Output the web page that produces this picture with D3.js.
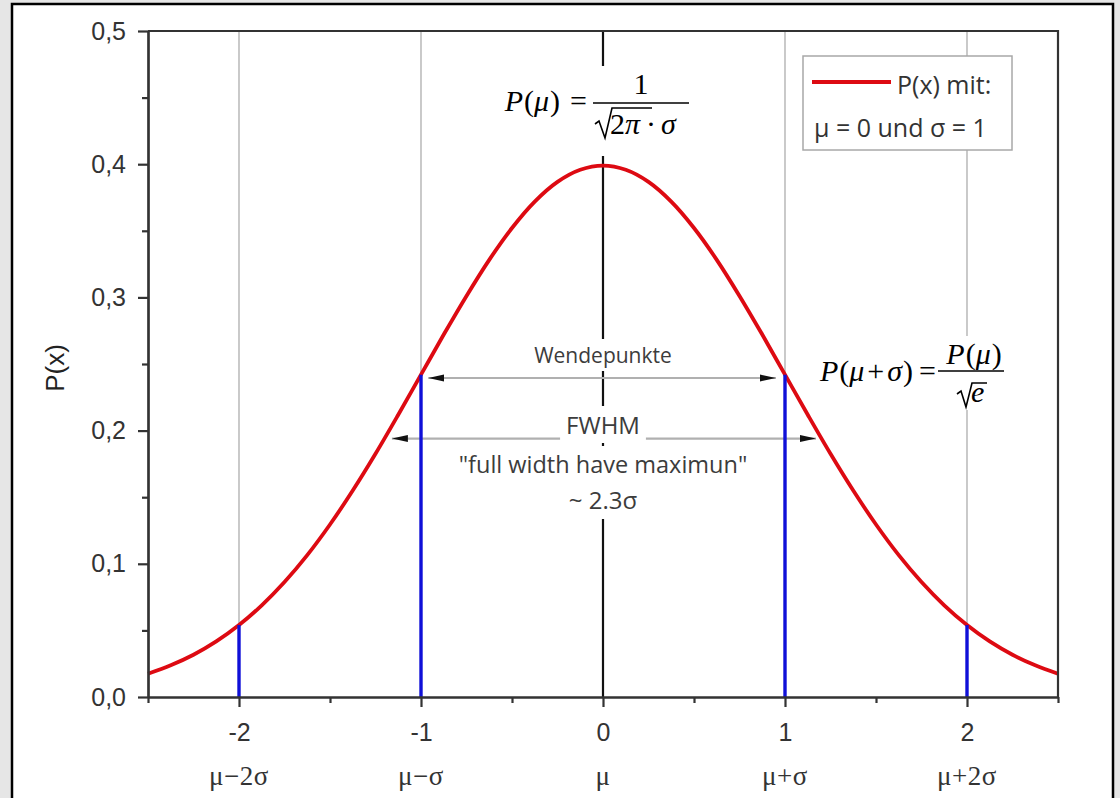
<!DOCTYPE html>
<html>
<head>
<meta charset="utf-8">
<script src="https://cdn.jsdelivr.net/npm/d3@7"></script>
<style>
  html, body { margin: 0; padding: 0; background: #e6e6e6; }
  svg { display: block; }
</style>
</head>
<body>
<svg id="chart" width="1120" height="798"></svg>
<script>
// Normal distribution, mu = 0, sigma = 1: sampled density values
const curveX = [-2.5, -2.375, -2.25, -2.125, -2, -1.875, -1.75, -1.625, -1.5, -1.375, -1.25, -1.125,
                -1, -0.875, -0.75, -0.625, -0.5, -0.375, -0.25, -0.125, 0,
                0.125, 0.25, 0.375, 0.5, 0.625, 0.75, 0.875, 1,
                1.125, 1.25, 1.375, 1.5, 1.625, 1.75, 1.875, 2, 2.125, 2.25, 2.375, 2.5];
const curveY = [0.0175, 0.0238, 0.0317, 0.0417, 0.0540, 0.0688, 0.0863, 0.1065, 0.1295, 0.1550, 0.1826, 0.2119,
                0.2420, 0.2721, 0.3011, 0.3282, 0.3521, 0.3719, 0.3867, 0.3958, 0.3989,
                0.3958, 0.3867, 0.3719, 0.3521, 0.3282, 0.3011, 0.2721, 0.2420,
                0.2119, 0.1826, 0.1550, 0.1295, 0.1065, 0.0863, 0.0688, 0.0540, 0.0417, 0.0317, 0.0238, 0.0175];

// Blue drop lines at mu ± sigma and mu ± 2 sigma
const dropX = [-2, -1, 1, 2];
const dropY = [0.0540, 0.2420, 0.2420, 0.0540];

// Axis ticks
const xTicks = [-2, -1, 0, 1, 2];
const xTickLabels = ["-2", "-1", "0", "1", "2"];
const xSigmaLabels = ["\u03bc\u22122\u03c3", "\u03bc\u2212\u03c3", "\u03bc", "\u03bc+\u03c3", "\u03bc+2\u03c3"];
const xMinorTicks = [-2.5, -1.5, -0.5, 0.5, 1.5, 2.5];
const yTicks = [0, 0.1, 0.2, 0.3, 0.4, 0.5];
const yTickLabels = ["0,0", "0,1", "0,2", "0,3", "0,4", "0,5"];
const yMinorTicks = [0.05, 0.15, 0.25, 0.35, 0.45];

// Vertical reference lines
const gridX = [-2, -1, 1, 2];
const centerX = 0;

// Width arrows: inflection points and FWHM
const arrowNames = ["Wendepunkte", "FWHM"];
const arrowX1 = [-0.96, -1.16];
const arrowX2 = [0.95, 1.17];
const arrowY = [0.2395, 0.194];

const svg = d3.select("#chart");

// white sheet with black frame
svg.append("rect")
  .attr("x", 12).attr("y", 4).attr("width", 1101).attr("height", 810)
  .attr("fill", "#fff").attr("stroke", "#000").attr("stroke-width", 2.5);

const x = d3.scaleLinear().domain([-2.5, 2.5]).range([148, 1058]);
const y = d3.scaleLinear().domain([0, 0.5]).range([697, 31]);

const axisColor = "#333";
const sans = "'Liberation Sans', Arial, sans-serif";
const serif = "'Liberation Serif', 'Times New Roman', serif";
const ui = "'Open Sans', 'Noto Sans', sans-serif";

// grid lines
svg.append("g").selectAll("line").data(gridX).join("line")
  .attr("x1", d => x(d)).attr("x2", d => x(d))
  .attr("y1", y(0.5)).attr("y2", y(0))
  .attr("stroke", "#c4c4c4").attr("stroke-width", 1.8);

svg.append("line")
  .attr("x1", x(centerX)).attr("x2", x(centerX))
  .attr("y1", y(0.5)).attr("y2", y(0))
  .attr("stroke", "#111").attr("stroke-width", 2.2);

// arrows
const defs = svg.append("defs");
["start", "end"].forEach(kind => {
  defs.append("marker")
    .attr("id", "arrow-" + kind)
    .attr("viewBox", "0 0 16 10")
    .attr("refX", kind === "end" ? 16 : 0).attr("refY", 5)
    .attr("markerWidth", 16).attr("markerHeight", 10)
    .attr("markerUnits", "userSpaceOnUse")
    .attr("orient", "auto")
    .append("path")
    .attr("d", kind === "end" ? "M0,1.5 L16,5 L0,8.5 Z" : "M16,1.5 L0,5 L16,8.5 Z")
    .attr("fill", "#111");
});

svg.append("g").selectAll("line").data(arrowY).join("line")
  .attr("x1", (d, i) => x(arrowX1[i])).attr("x2", (d, i) => x(arrowX2[i]))
  .attr("y1", d => y(d)).attr("y2", d => y(d))
  .attr("stroke", "#b0b0b0").attr("stroke-width", 2.2)
  .attr("marker-start", "url(#arrow-start)")
  .attr("marker-end", "url(#arrow-end)");

// text with a white backing box
function boxedText(px, py, str, opts) {
  const g = svg.append("g");
  const rect = g.append("rect").attr("fill", "#fff");
  const t = g.append("text")
    .attr("x", px).attr("y", py)
    .attr("text-anchor", "middle")
    .attr("font-family", ui)
    .attr("font-size", opts.size)
    .attr("fill", opts.color || "#3c3c3c")
    .text(str);
  const b = t.node().getBBox();
  const padX = opts.padX || 4, padY = opts.padY || 2;
  rect.attr("x", b.x - padX).attr("y", b.y - padY)
    .attr("width", b.width + 2 * padX).attr("height", b.height + 2 * padY);
  return g;
}

boxedText(x(0), 363, arrowNames[0], { size: 21, padX: 6, padY: 2 });
boxedText(x(0), 434, arrowNames[1], { size: 24, padX: 6, padY: 0 });
boxedText(x(0), 473, "\"full width have maximun\"", { size: 23.5, padX: 4, padY: 0 });
boxedText(x(0), 509, "~ 2.3\u03c3", { size: 24, padX: 4, padY: 3 });

// formula: P(mu) = 1 / (sqrt(2 pi) * sigma)
const f1 = svg.append("g");
f1.append("rect").attr("x", 496).attr("y", 66).attr("width", 198).attr("height", 90).attr("fill", "#fff");
const f1t = f1.append("text").attr("x", 587).attr("y", 111)
  .attr("text-anchor", "end").attr("font-family", serif).attr("font-size", 30).attr("fill", "#000");
f1t.append("tspan").attr("font-style", "italic").text("P");
f1t.append("tspan").attr("dx", 1).text("(");
f1t.append("tspan").attr("font-style", "italic").text("\u03bc");
f1t.append("tspan").attr("dx", 1).text(")");
f1t.append("tspan").attr("dx", 10).text("=");
f1.append("line").attr("x1", 593).attr("x2", 689).attr("y1", 103).attr("y2", 103)
  .attr("stroke", "#000").attr("stroke-width", 1.6);
f1.append("text").attr("x", 641).attr("y", 94).attr("text-anchor", "middle")
  .attr("font-family", serif).attr("font-size", 30).text("1");
f1.append("path").attr("d", "M595,124 L599,121 L605,138 L612,108 L652,108")
  .attr("fill", "none").attr("stroke", "#000").attr("stroke-width", 1.6);
const f1d = f1.append("text").attr("x", 610).attr("y", 134)
  .attr("font-family", serif).attr("font-size", 30);
f1d.append("tspan").text("2");
f1d.append("tspan").attr("font-style", "italic").text("\u03c0");
f1d.append("tspan").attr("dx", 6).text("\u00b7");
f1d.append("tspan").attr("dx", 5).attr("font-style", "italic").text("\u03c3");

// formula: P(mu + sigma) = P(mu) / sqrt(e)
const f2 = svg.append("g");
f2.append("rect").attr("x", 810).attr("y", 336).attr("width", 200).attr("height", 74).attr("fill", "#fff");
const f2t = f2.append("text").attr("x", 936).attr("y", 381)
  .attr("text-anchor", "end").attr("font-family", serif).attr("font-size", 30);
f2t.append("tspan").attr("font-style", "italic").text("P");
f2t.append("tspan").attr("dx", 1).text("(");
f2t.append("tspan").attr("font-style", "italic").text("\u03bc");
f2t.append("tspan").attr("dx", 3).text("+");
f2t.append("tspan").attr("dx", 3).attr("font-style", "italic").text("\u03c3");
f2t.append("tspan").attr("dx", 1).text(")");
f2t.append("tspan").attr("dx", 6).text("=");
f2.append("line").attr("x1", 938).attr("x2", 1004).attr("y1", 371).attr("y2", 371)
  .attr("stroke", "#000").attr("stroke-width", 1.6);
const f2n = f2.append("text").attr("x", 974).attr("y", 364).attr("text-anchor", "middle")
  .attr("font-family", serif).attr("font-size", 30);
f2n.append("tspan").attr("font-style", "italic").text("P");
f2n.append("tspan").attr("dx", 1).text("(");
f2n.append("tspan").attr("font-style", "italic").text("\u03bc");
f2n.append("tspan").attr("dx", 1).text(")");
f2.append("path").attr("d", "M957,394 L961,391 L966,407 L972,383 L987,383")
  .attr("fill", "none").attr("stroke", "#000").attr("stroke-width", 1.6);
f2.append("text").attr("x", 971).attr("y", 402)
  .attr("font-family", serif).attr("font-size", 30).attr("font-style", "italic").text("e");

// legend
const lg = svg.append("g");
lg.append("rect").attr("x", 803).attr("y", 56).attr("width", 209).attr("height", 94)
  .attr("fill", "#fff").attr("stroke", "#a8a8a8").attr("stroke-width", 1.5);
lg.append("line").attr("x1", 812).attr("x2", 891).attr("y1", 82).attr("y2", 82)
  .attr("stroke", "#dd0a12").attr("stroke-width", 4);
lg.append("text").attr("x", 897).attr("y", 94)
  .attr("font-family", ui).attr("font-size", 25).attr("fill", "#333").text("P(x) mit:");
lg.append("text").attr("x", 814).attr("y", 137)
  .attr("font-family", ui).attr("font-size", 25).attr("fill", "#333").text("\u03bc = 0 und \u03c3 = 1");

// density curve
const line = d3.line()
  .x((d, i) => x(curveX[i]))
  .y(d => y(d))
  .curve(d3.curveCatmullRom.alpha(0.5));

svg.append("path")
  .datum(curveY)
  .attr("d", line)
  .attr("fill", "none")
  .attr("stroke", "#dd0a12")
  .attr("stroke-width", 3.8)
  .attr("stroke-linejoin", "round");

// drop lines
svg.append("g").selectAll("line").data(dropX).join("line")
  .attr("x1", d => x(d)).attr("x2", d => x(d))
  .attr("y1", (d, i) => y(dropY[i])).attr("y2", y(0))
  .attr("stroke", "#1010d8").attr("stroke-width", 3.4);

// plot frame (top and right)
svg.append("path")
  .attr("d", `M${x(-2.5)},${y(0.5)} H${x(2.5)} V${y(0)}`)
  .attr("fill", "none").attr("stroke", axisColor).attr("stroke-width", 2.2);

// axes
function styleAxis(g) {
  g.select(".domain").attr("stroke", axisColor).attr("stroke-width", 2.2);
  g.selectAll(".tick line").attr("stroke", axisColor).attr("stroke-width", 2.2);
  g.selectAll(".tick text").attr("fill", "#333").attr("font-family", sans).attr("font-size", 25);
}

svg.append("g")
  .attr("transform", `translate(0,${y(0)})`)
  .call(d3.axisBottom(x).tickValues(xMinorTicks).tickSize(6).tickSizeOuter(0).tickFormat(""))
  .call(styleAxis);

svg.append("g")
  .attr("transform", `translate(0,${y(0)})`)
  .call(d3.axisBottom(x).tickValues(xTicks).tickSize(10).tickSizeOuter(0)
    .tickPadding(16).tickFormat((d, i) => xTickLabels[i]))
  .call(styleAxis);

svg.append("g")
  .attr("transform", `translate(${x(-2.5)},0)`)
  .call(d3.axisLeft(y).tickValues(yMinorTicks).tickSize(6).tickSizeOuter(0).tickFormat(""))
  .call(styleAxis);

svg.append("g")
  .attr("transform", `translate(${x(-2.5)},0)`)
  .call(d3.axisLeft(y).tickValues(yTicks).tickSize(10).tickSizeOuter(0)
    .tickPadding(12).tickFormat((d, i) => yTickLabels[i]))
  .call(styleAxis);

// sigma labels below the axis
svg.append("g").selectAll("text").data(xTicks).join("text")
  .attr("x", d => x(d)).attr("y", 785)
  .attr("text-anchor", "middle")
  .attr("font-family", serif).attr("font-size", 27).attr("letter-spacing", 0.5).attr("fill", "#333")
  .text((d, i) => xSigmaLabels[i]);

// y axis title
svg.append("text")
  .attr("transform", "translate(64,368) rotate(-90)")
  .attr("text-anchor", "middle")
  .attr("font-family", sans).attr("font-size", 26).attr("fill", "#222")
  .text("P(x)");
</script>
</body>
</html>
